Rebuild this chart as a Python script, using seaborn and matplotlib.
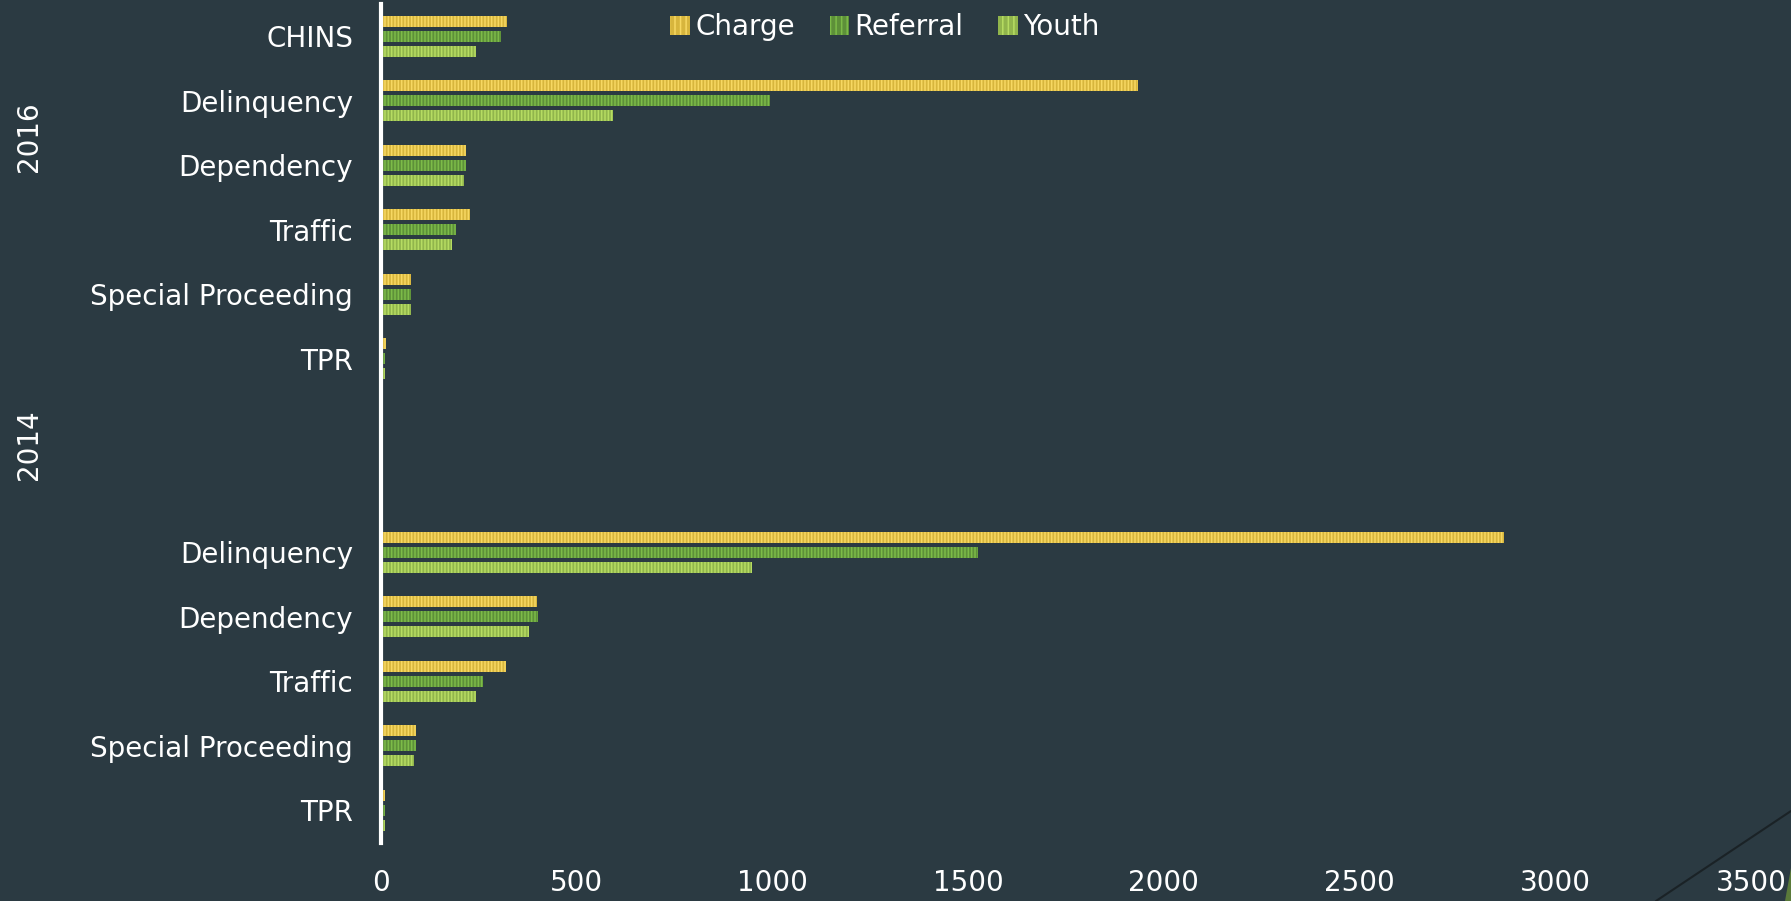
import matplotlib
matplotlib.use('Agg')
import matplotlib.pyplot as plt
import seaborn as sns
import pandas as pd
from matplotlib.lines import Line2D
from matplotlib.patches import Polygon

# data
years = ['2016', '2016', '2016', '2016', '2016', '2016',
         '2014', '2014', '2014', '2014', '2014']
categories = ['CHINS', 'Delinquency', 'Dependency', 'Traffic', 'Special Proceeding', 'TPR',
              'Delinquency', 'Dependency', 'Traffic', 'Special Proceeding', 'TPR']
charge = [321, 1935, 216, 228, 76, 12, 2869, 399, 319, 89, 11]
referral = [306, 995, 216, 193, 76, 11, 1524, 400, 261, 89, 11]
youth = [242, 592, 213, 181, 76, 11, 949, 377, 244, 84, 11]
series = ['Charge', 'Referral', 'Youth']
xticks = [0, 500, 1000, 1500, 2000, 2500, 3000, 3500]

bg = '#2b3a42'
base_colors = {'Charge': '#f0c324', 'Referral': '#5a9e2a', 'Youth': '#96c73a'}
stripe_colors = {'Charge': '#f7d862', 'Referral': '#7cbb48', 'Youth': '#b6dc62'}

keys = [f'{y}|{c}' for y, c in zip(years, categories)]
rows = []
for k, a, b, c in zip(keys, charge, referral, youth):
    rows.append((k, 'Charge', a))
    rows.append((k, 'Referral', b))
    rows.append((k, 'Youth', c))
df = pd.DataFrame(rows, columns=['key', 'series', 'value'])

# two empty slots between the year groups
order = keys[:6] + ['blank1', 'blank2'] + keys[6:]
labels = categories[:6] + ['', ''] + categories[6:]

sns.set_style('dark')
plt.rcParams['font.family'] = ['DejaVu Sans']
plt.rcParams['hatch.linewidth'] = 1.1

fig, ax = plt.subplots(figsize=(17.91, 9.01), dpi=100)
fig.patch.set_facecolor(bg)
ax.set_facecolor(bg)
fig.subplots_adjust(left=0.2127, right=0.9777, top=0.9957, bottom=0.0647)

sns.barplot(data=df, x='value', y='key', hue='series', order=order, hue_order=series,
            orient='h', width=0.7, gap=0.27, palette=base_colors, ax=ax, legend=True)

# striped fill like the original
for cont, s in zip(ax.containers, series):
    for p in cont:
        p.set_hatch('|||||')
        p.set_edgecolor(stripe_colors[s])
        p.set_linewidth(0)

ax.set_xlim(0, 3500)
ax.set_ylim(12.5, -0.5)
ax.set_xticks(xticks)
ax.set_xticklabels([str(t) for t in xticks])
ax.set_yticks(range(len(order)))
ax.set_yticklabels(labels)
ax.tick_params(axis='y', length=0, pad=20, labelsize=20, colors='white')
ax.tick_params(axis='x', length=0, pad=19, labelsize=20, colors='white')
ax.set_xlabel('')
ax.set_ylabel('')
ax.grid(False)
for side in ['top', 'right', 'bottom']:
    ax.spines[side].set_visible(False)
ax.spines['left'].set_visible(True)
ax.spines['left'].set_color('white')
ax.spines['left'].set_linewidth(3)

# legend across the top
handles, hl = ax.get_legend_handles_labels()
for h, s in zip(handles, hl):
    h.set_hatch('|||')
    h.set_edgecolor(stripe_colors[s])
    h.set_linewidth(0)
leg = ax.legend(handles, hl, loc='center', bbox_to_anchor=(885 / 1791, 1 - 27 / 901),
                bbox_transform=fig.transFigure, ncol=3, frameon=False, fontsize=20,
                handlelength=0.7, handleheight=0.7, handletextpad=0.2, columnspacing=1.25)
for t in leg.get_texts():
    t.set_color('white')

# year group labels
fig.text(29 / 1791, 1 - 137 / 901, '2016', rotation=90, ha='center', va='center',
         color='white', fontsize=20)
fig.text(29 / 1791, 1 - 445 / 901, '2014', rotation=90, ha='center', va='center',
         color='white', fontsize=20)

# decorative corner line and shape
fig.add_artist(Line2D([1656 / 1791, 1.0], [0, 1 - 811 / 901], transform=fig.transFigure,
                      color='#1a2226', linewidth=1.5))
fig.add_artist(Polygon([[1785 / 1791, 0], [1.0, 1 - 868 / 901], [1.0, 0]], closed=True,
                       transform=fig.transFigure, facecolor='#5a7a3a', edgecolor='none'))

fig.savefig('out.png', dpi=100, facecolor=bg)
plt.close(fig)
